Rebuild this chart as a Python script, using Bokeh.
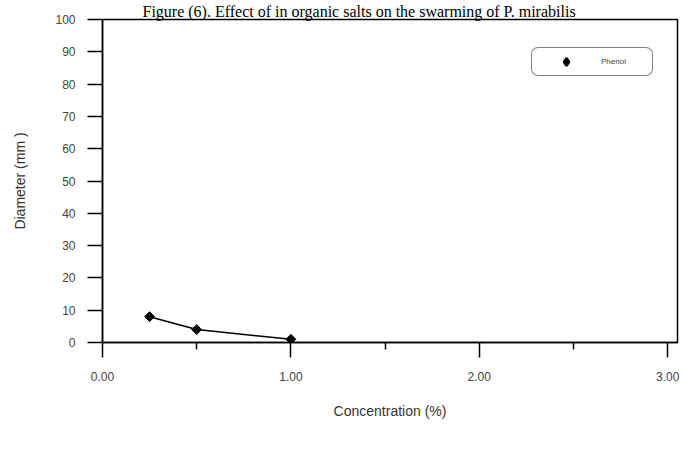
from bokeh.plotting import figure
from bokeh.models import (Range1d, FixedTicker, NumeralTickFormatter, Legend,
                          LegendItem, Title)
from bokeh.embed import file_html
from bokeh.resources import INLINE
import math

# ---- data ----
concentration = [0.25, 0.5, 1.0]
diameter = [8, 4, 1]
series_name = "Phenol"
x_ticks = [0, 1, 2, 3]
x_minor = [0.5, 1.5, 2.5]
y_ticks = [0, 10, 20, 30, 40, 50, 60, 70, 80, 90, 100]
title_text = "Figure (6). Effect of in organic salts on the swarming of P. mirabilis"

FONT = "Liberation Sans"
GRAY = "#444444"

p = figure(width=680, height=445, output_backend="svg", toolbar_location=None,
           x_range=Range1d(0, 3.052), y_range=Range1d(0, 100),
           min_border_left=102, min_border_right=3, min_border_top=0,
           min_border_bottom=103)
p.title = Title(text=title_text, text_font="Liberation Serif",
                text_font_size="16px", text_font_style="normal",
                text_color="black", align="left", standoff=0, offset=40)
p.background_fill_color = "white"
p.border_fill_color = "white"
p.grid.visible = False
p.outline_line_color = "black"
p.outline_line_width = 1.5

for ax in (p.xaxis[0], p.yaxis[0]):
    ax.axis_line_color = "black"
    ax.axis_line_width = 1.5
    ax.major_tick_line_color = "black"
    ax.major_tick_line_width = 1.5
    ax.minor_tick_line_color = "black"
    ax.minor_tick_line_width = 1.5
    ax.major_tick_in = 0
    ax.major_tick_out = 15
    ax.minor_tick_in = 0
    ax.minor_tick_out = 7
    ax.major_label_text_font = FONT
    ax.major_label_text_font_size = "12px"
    ax.major_label_text_color = GRAY
    ax.axis_label_text_font = FONT
    ax.axis_label_text_font_size = "14px"
    ax.axis_label_text_font_style = "normal"
    ax.axis_label_text_color = "#333333"

p.xaxis.ticker = FixedTicker(ticks=x_ticks, minor_ticks=x_minor)
p.xaxis.formatter = NumeralTickFormatter(format="0.00")
p.xaxis.major_label_standoff = 14
p.xaxis.axis_label = "Concentration (%)"
p.xaxis.axis_label_standoff = 19

p.yaxis.ticker = FixedTicker(ticks=y_ticks, minor_ticks=[])
p.yaxis.major_label_standoff = 12
p.yaxis.axis_label = "Diameter (mm )"
p.yaxis.axis_label_standoff = 24

p.line(concentration, diameter, line_color="black", line_width=1.5)
p.scatter(concentration, diameter, marker="square", angle=math.pi / 4,
          size=7, fill_color="black", line_color="black")
# legend-only glyph (no visible data points)
leg_r = p.scatter([float("nan")], [float("nan")], marker="diamond", size=13,
                  fill_color="black", line_color="black", line_width=2.5)

legend = Legend(items=[LegendItem(label=series_name, renderers=[leg_r])],
                location=(429, 266), orientation="vertical",
                padding=4, margin=0, spacing=0,
                glyph_width=60, glyph_height=19, label_standoff=5,
                label_width=47, label_height=19,
                label_text_font=FONT, label_text_font_size="8px",
                label_text_color=GRAY, label_text_baseline="middle",
                border_line_color="black", border_line_width=1.5,
                background_fill_color="white", background_fill_alpha=1)
try:
    legend.border_radius = 7
except Exception:
    pass
p.add_layout(legend, "center")

open("out.html", "w").write(file_html(p, INLINE))
